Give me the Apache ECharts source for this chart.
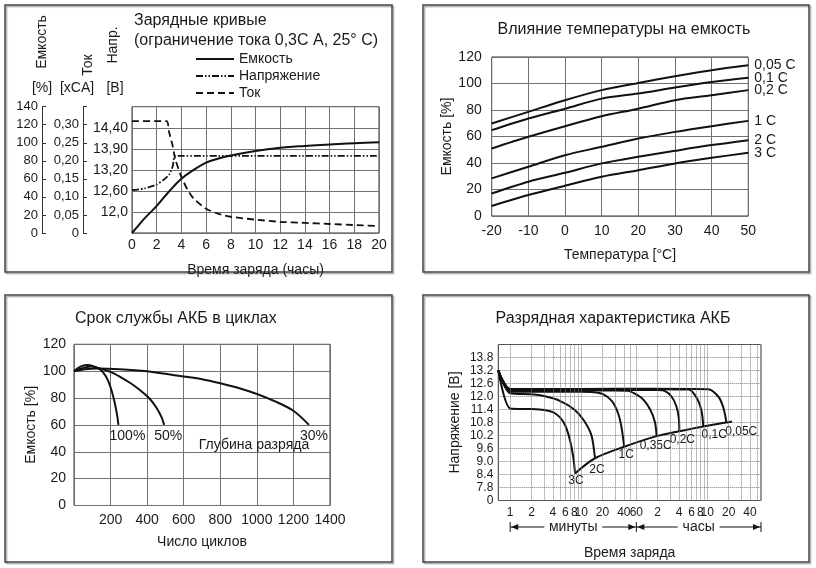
<!DOCTYPE html>
<html>
<head>
<meta charset="utf-8">
<script src="https://cdn.jsdelivr.net/npm/echarts@6/dist/echarts.min.js"></script>
<style>
html, body { margin: 0; padding: 0; background: #fff; }
#main { width: 816px; height: 568px; }
</style>
</head>
<body>
<div id="main"></div>
<script>
// --- Зарядные кривые (hours -> value) ---
var chargeCapacity = [[0,0],[0.5,8],[1,16],[2,30],[3,46],[4,60],[5,70],[6,78],[7,82.5],[8,86],[10,91],[12,94.5],[14,96.5],[16,98],[18,99.5],[20,100.5]];
var chargeVoltage = [[0,12.62],[1,12.67],[2,12.78],[2.5,12.9],[3,13.06],[3.3,13.3],[3.5,13.6],[6,13.6],[10,13.6],[15,13.6],[20,13.6]];
var chargeCurrent = [[0,0.31],[2.8,0.31],[3.0,0.28],[3.3,0.24],[3.5,0.205],[4,0.155],[4.5,0.12],[5,0.095],[6,0.067],[7,0.053],[8,0.045],[10,0.037],[12,0.031],[14,0.028],[16,0.025],[18,0.022],[20,0.019]];
var voltageTickLabels = ['', '12,0', '12,60', '13,20', '13,90', '14,40', ''];
var chargeLegend = ['Емкость', 'Напряжение', 'Ток'];

// --- Влияние температуры на емкость ---
var tempC = [-20, -10, 0, 10, 20, 30, 40, 50];
var tempNames = ['0,05 C', '0,1 C', '0,2 C', '1 C', '2 C', '3 C'];
var cap005 = [69.8, 78.6, 87.4, 95, 100.4, 105.4, 110, 113.7];
var cap01 = [64.8, 73.6, 81, 88.6, 92.4, 97, 101.2, 104.4];
var cap02 = [51, 59.8, 67.8, 75.3, 81, 87.4, 91.1, 95];
var cap1 = [28.4, 37.2, 45.9, 52.2, 58.5, 63.5, 67.8, 71.8];
var cap2 = [17, 25.9, 32.6, 39.7, 44.7, 49.2, 53.5, 57.2];
var cap3 = [7.5, 15.8, 22.8, 29.6, 34.6, 39.7, 43.9, 47.7];

// --- Срок службы АКБ в циклах (cycles -> %) ---
var life100 = [[0,100],[30,103],[70,104.5],[110,103.5],[145,101],[175,96],[200,88],[220,78],[235,68],[243,60]];
var life50 = [[0,100],[40,102],[90,103.5],[140,102],[200,99.5],[250,96],[310,91],[360,86],[410,80],[450,73],[478,66],[493,60]];
var life30 = [[0,100],[60,101.5],[130,102],[250,101.5],[400,100],[500,98],[600,96],[700,94],[800,91],[900,87.5],[1000,83],[1100,77.5],[1200,70.5],[1285,60]];
var lifeNames = ['100%', '50%', '30%'];

// --- Разрядная характеристика АКБ (minutes -> V) ---
var dis3C = [[0.68,13.2],[1,11.45],[2,11.42],[3,11.38],[4,11.28],[5,11.05],[6,10.65],[7,9.95],[7.8,9.15],[8.2,8.45]];
var dis2C = [[0.68,13.2],[1,12.15],[2,12.1],[3,12.02],[5,11.8],[8,11.4],[11,10.88],[14,10.2],[15.7,9.15]];
var dis1C = [[0.68,13.2],[1,12.22],[5,12.22],[10,12.22],[15,12.2],[20,12.12],[27,11.8],[33,11.25],[37,10.6],[40.5,9.68]];
var dis035C = [[0.68,13.2],[1,12.26],[10,12.27],[30,12.28],[46,12.26],[70,11.95],[94,11.4],[110,10.8],[116,10.17]];
var dis02C = [[0.68,13.2],[1,12.3],[10,12.3],[60,12.31],[120,12.3],[150,12.26],[188,12.0],[220,11.55],[238,11.0],[242,10.4]];
var dis01C = [[0.68,13.2],[1,12.33],[10,12.33],[100,12.34],[327,12.32],[426,11.93],[500,11.3],[527,10.62]];
var dis005C = [[0.68,13.2],[1,12.35],[10,12.35],[100,12.36],[620,12.34],[858,12.0],[1000,11.54],[1080,11.08],[1110,10.8]];
var endVoltage = [[8.2,8.45],[15.7,9.15],[40.5,9.68],[116,10.17],[242,10.4],[527,10.62],[1110,10.8],[1340,10.85]];
var disNames = ['3C', '2C', '1C', '0,35C', '0,2C', '0,1C', '0,05C'];
var minuteGrid = [1,2,3,4,5,6,7,8,9,10,20,30,40,50,60,120,180,240,300,360,420,480,540,600,1200,1800,2400,3000];
var timeTickValues = [1,2,4,6,8,10,20,40,60,120,240,360,480,600,1200,2400];
var timeTickLabels = ['1','2','4','6','8','10','20','40','60','2','4','6','8','10','20','40'];

var FONT = 'Liberation Sans';
var INK = '#1a1a1a';
var GRIDC = '#707070';

var dom = document.getElementById('main');
var myChart = echarts.init(dom, null, { renderer: 'canvas' });

function pairs(xs, ys) {
    return xs.map(function (x, i) { return [x, ys[i]]; });
}
function txt(size) {
    return { color: INK, fontFamily: FONT, fontSize: size };
}
function curve(name, data, xi, yi, extra) {
    var s = {
        name: name, type: 'line', xAxisIndex: xi, yAxisIndex: yi,
        data: data, symbol: 'none', smooth: 0.3, silent: true,
        itemStyle: { color: '#111' },
        lineStyle: { color: '#111', width: 2 }
    };
    for (var k in extra) s[k] = extra[k];
    return s;
}

var tempSeries = [cap005, cap01, cap02, cap1, cap2, cap3].map(function (ys, i) {
    return curve(tempNames[i], pairs(tempC, ys), 1, 3, {
        endLabel: { show: true, formatter: tempNames[i], distance: 6, color: INK, fontFamily: FONT, fontSize: 14 }
    });
});

var lifeOffsets = [[9, 11], [4, 11], [5, 11]];
var lifeSeries = [life100, life50, life30].map(function (d, i) {
    return curve(lifeNames[i], d, 2, 4, {
        endLabel: { show: true, formatter: lifeNames[i], distance: 0, align: 'center', verticalAlign: 'middle',
            offset: lifeOffsets[i], color: INK, fontFamily: FONT, fontSize: 14 }
    });
});

var disOffsets = [[1, 7], [2, 11], [2, 8], [-1, 10], [3, 9], [11, 8], [15, 9]];
var disSeries = [dis3C, dis2C, dis1C, dis035C, dis02C, dis01C, dis005C].map(function (d, i) {
    return curve(disNames[i], d, 3, 5, {
        smooth: 0.25,
        endLabel: { show: true, formatter: disNames[i], distance: 0, align: 'center', verticalAlign: 'middle',
            offset: disOffsets[i], color: INK, fontFamily: FONT, fontSize: 12 }
    });
});

disSeries.push(curve('end', endVoltage, 3, 5, {
    z: 1,
    markLine: {
        silent: true, symbol: 'none', animation: false,
        lineStyle: { color: '#7a7a7a', width: 1, type: 'dotted' },
        data: minuteGrid.map(function (v) {
            var k = timeTickValues.indexOf(v);
            return {
                xAxis: v,
                label: k < 0 ? { show: false } : {
                    show: true, position: 'start', distance: 6, formatter: timeTickLabels[k],
                    color: INK, fontFamily: FONT, fontSize: 12
                }
            };
        })
    }
}));

var option = {
    animation: false,
    backgroundColor: '#fff',
    title: [
        { text: 'Зарядные кривые\n(ограничение тока 0,3C A, 25° C)', left: 134, top: 11, padding: 0,
          textStyle: { color: INK, fontFamily: FONT, fontSize: 16, fontWeight: 'normal', lineHeight: 20 } },
        { text: 'Влияние температуры на емкость', left: 624, top: 22, padding: 0, textAlign: 'center',
          textStyle: { color: INK, fontFamily: FONT, fontSize: 16, fontWeight: 'normal' } },
        { text: 'Срок службы АКБ в циклах', left: 75, top: 311, padding: 0,
          textStyle: { color: INK, fontFamily: FONT, fontSize: 16, fontWeight: 'normal' } },
        { text: 'Разрядная характеристика АКБ', left: 613, top: 311, padding: 0, textAlign: 'center',
          textStyle: { color: INK, fontFamily: FONT, fontSize: 16, fontWeight: 'normal' } }
    ],
    legend: {
        data: chargeLegend, orient: 'vertical', left: 195, top: 52, padding: 0,
        itemWidth: 38, itemHeight: 10, itemGap: 3,
        itemStyle: { opacity: 0 },
        textStyle: txt(14), selectedMode: false
    },
    grid: [
        { left: 132, top: 106.7, width: 247, height: 126.3, show: true, borderColor: '#333', borderWidth: 1 },
        { left: 491.7, top: 57, width: 256.6, height: 159, show: true, borderColor: '#333', borderWidth: 1 },
        { left: 74, top: 344.3, width: 256, height: 161.2, show: true, borderColor: '#333', borderWidth: 1 },
        { left: 498.3, top: 344.5, width: 262.7, height: 156, show: true, borderColor: '#333', borderWidth: 1 }
    ],
    xAxis: [
        { type: 'value', gridIndex: 0, min: 0, max: 20, interval: 2,
          axisLine: { show: false }, axisTick: { show: false },
          axisLabel: { margin: 5, color: INK, fontFamily: FONT, fontSize: 14 },
          splitLine: { lineStyle: { color: GRIDC, width: 1 } },
          name: 'Время заряда (часы)', nameLocation: 'middle', nameGap: 30, nameTextStyle: txt(14) },
        { type: 'value', gridIndex: 1, min: -20, max: 50, interval: 10,
          axisLine: { show: false }, axisTick: { show: false },
          axisLabel: { margin: 8, color: INK, fontFamily: FONT, fontSize: 14 },
          splitLine: { lineStyle: { color: GRIDC, width: 1 } },
          name: 'Температура [°C]', nameLocation: 'middle', nameGap: 32, nameTextStyle: txt(14) },
        { type: 'value', gridIndex: 2, min: 0, max: 1400, interval: 200,
          axisLine: { show: false }, axisTick: { show: false },
          axisLabel: { margin: 8, showMinLabel: false, color: INK, fontFamily: FONT, fontSize: 14,
              formatter: function (v) { return String(v); } },
          splitLine: { lineStyle: { color: GRIDC, width: 1 } },
          name: 'Число циклов', nameLocation: 'middle', nameGap: 30, nameTextStyle: txt(14) },
        { type: 'log', gridIndex: 3, logBase: 10, min: 0.68, max: 3430,
          axisLine: { show: false }, axisTick: { show: false }, axisLabel: { show: false },
          splitLine: { show: false }, minorSplitLine: { show: false },
          name: 'Время заряда', nameLocation: 'middle', nameGap: 46, nameTextStyle: txt(14) }
    ],
    yAxis: [
        { type: 'value', gridIndex: 0, min: 11.4, max: 15.0, interval: 0.6,
          axisLine: { show: false }, axisTick: { show: false },
          axisLabel: { margin: 4, color: INK, fontFamily: FONT, fontSize: 14,
              formatter: function (v) { return voltageTickLabels[Math.round((v - 11.4) / 0.6)] || ''; } },
          splitLine: { lineStyle: { color: GRIDC, width: 1 } } },
        { type: 'value', gridIndex: 0, position: 'left', offset: 90, min: 0, max: 140, interval: 20,
          axisLine: { show: true, lineStyle: { color: '#333', width: 1 } },
          axisTick: { show: true, inside: true, length: 4, lineStyle: { color: '#333' } },
          axisLabel: { margin: 4, color: INK, fontFamily: FONT, fontSize: 13 },
          splitLine: { show: false } },
        { type: 'value', gridIndex: 0, position: 'left', offset: 49, min: 0, max: 0.35, interval: 0.05,
          axisLine: { show: true, lineStyle: { color: '#333', width: 1 } },
          axisTick: { show: true, inside: true, length: 4, lineStyle: { color: '#333' } },
          axisLabel: { margin: 4, color: INK, fontFamily: FONT, fontSize: 13,
              formatter: function (v) { return v === 0 ? '0' : (v > 0.33 ? '' : v.toFixed(2).replace('.', ',')); } },
          splitLine: { show: false } },
        { type: 'value', gridIndex: 1, min: 0, max: 120, interval: 20,
          axisLine: { show: false }, axisTick: { show: false },
          axisLabel: { margin: 10, color: INK, fontFamily: FONT, fontSize: 14 },
          splitLine: { lineStyle: { color: GRIDC, width: 1 } },
          name: 'Емкость [%]', nameLocation: 'middle', nameGap: 36, nameTextStyle: txt(14) },
        { type: 'value', gridIndex: 2, min: 0, max: 120, interval: 20,
          axisLine: { show: false }, axisTick: { show: false },
          axisLabel: { margin: 8, color: INK, fontFamily: FONT, fontSize: 14 },
          splitLine: { lineStyle: { color: GRIDC, width: 1 } },
          name: 'Емкость [%]', nameLocation: 'middle', nameGap: 36, nameTextStyle: txt(14) },
        { type: 'value', gridIndex: 3, min: 7.2, max: 14.4, interval: 0.6,
          axisLine: { show: false }, axisTick: { show: false },
          axisLabel: { margin: 5, color: INK, fontFamily: FONT, fontSize: 12,
              formatter: function (v) { return v < 7.3 ? '0' : (v > 14.3 ? '' : v.toFixed(1)); } },
          splitLine: { lineStyle: { color: '#7a7a7a', width: 1, type: 'dotted' } },
          name: 'Напряжение [В]', nameLocation: 'middle', nameGap: 36, nameTextStyle: txt(14) }
    ],
    series: [
        curve('Емкость', chargeCapacity, 0, 1, { smooth: 0.4 }),
        curve('Напряжение', chargeVoltage, 0, 0, { smooth: 0.2, lineStyle: { color: '#111', width: 1.8, type: [7, 2, 1.5, 2, 1.5, 2] } }),
        curve('Ток', chargeCurrent, 0, 2, { smooth: 0.2, lineStyle: { color: '#111', width: 1.8, type: [7, 4] } })
    ].concat(tempSeries, lifeSeries, disSeries)
};

myChart.setOption(option);

// frames, axis captions and the минуты / часы arrows
function frame(x, y, w, h) {
    return { type: 'rect', shape: { x: x, y: y, width: w, height: h }, silent: true, z: -1,
        style: { fill: 'none', stroke: '#444', lineWidth: 1.5, shadowColor: 'rgba(0,0,0,0.35)', shadowOffsetX: 1.5, shadowOffsetY: 1.5, shadowBlur: 1 } };
}
function label(text, x, y, rot, size) {
    return { type: 'text', x: x, y: y, rotation: rot || 0, silent: true,
        style: { text: text, align: 'center', verticalAlign: 'middle', fill: INK, fontFamily: FONT, fontSize: size || 14 } };
}
function seg(x1, y1, x2, y2) {
    return { type: 'line', silent: true, shape: { x1: x1, y1: y1, x2: x2, y2: y2 }, style: { stroke: '#111', lineWidth: 1 } };
}
function head(tip, y, dir) {
    return { type: 'polygon', silent: true, shape: { points: [[tip, y], [tip - dir * 7, y - 3], [tip - dir * 7, y + 3]] }, style: { fill: '#111' } };
}

var xa = myChart.convertToPixel({ xAxisIndex: 3 }, 1);
var xb = myChart.convertToPixel({ xAxisIndex: 3 }, 60);
var xc = myChart.convertToPixel({ xAxisIndex: 3 }, 3430);
var ay = 527;
var m1 = (xa + xb) / 2, m2 = (xb + xc) / 2;

myChart.setOption({
    graphic: [
        frame(5, 5, 387, 267), frame(423, 5, 386, 267), frame(5, 295, 387, 267), frame(423, 295, 386, 267),
        label('Емкость', 42, 42, Math.PI / 2), label('[%]', 42, 88),
        label('Ток', 88, 65, Math.PI / 2), label('[xCA]', 77, 88),
        label('Напр.', 113, 45, Math.PI / 2), label('[В]', 115, 88),
        label('Глубина разряда', 254, 445),
        seg(xa, ay - 5, xa, ay + 5), seg(xb, ay - 5, xb, ay + 5), seg(xc, ay - 5, xc, ay + 5),
        seg(xa, ay, m1 - 29, ay), seg(m1 + 29, ay, xb, ay),
        seg(xb, ay, m2 - 21, ay), seg(m2 + 21, ay, xc, ay),
        head(xa + 1, ay, -1), head(xb - 1, ay, 1), head(xb + 1, ay, -1), head(xc - 1, ay, 1),
        label('минуты', m1, ay, 0, 14), label('часы', m2, ay, 0, 14)
    ]
});

window.addEventListener('resize', myChart.resize);
</script>
</body>
</html>
